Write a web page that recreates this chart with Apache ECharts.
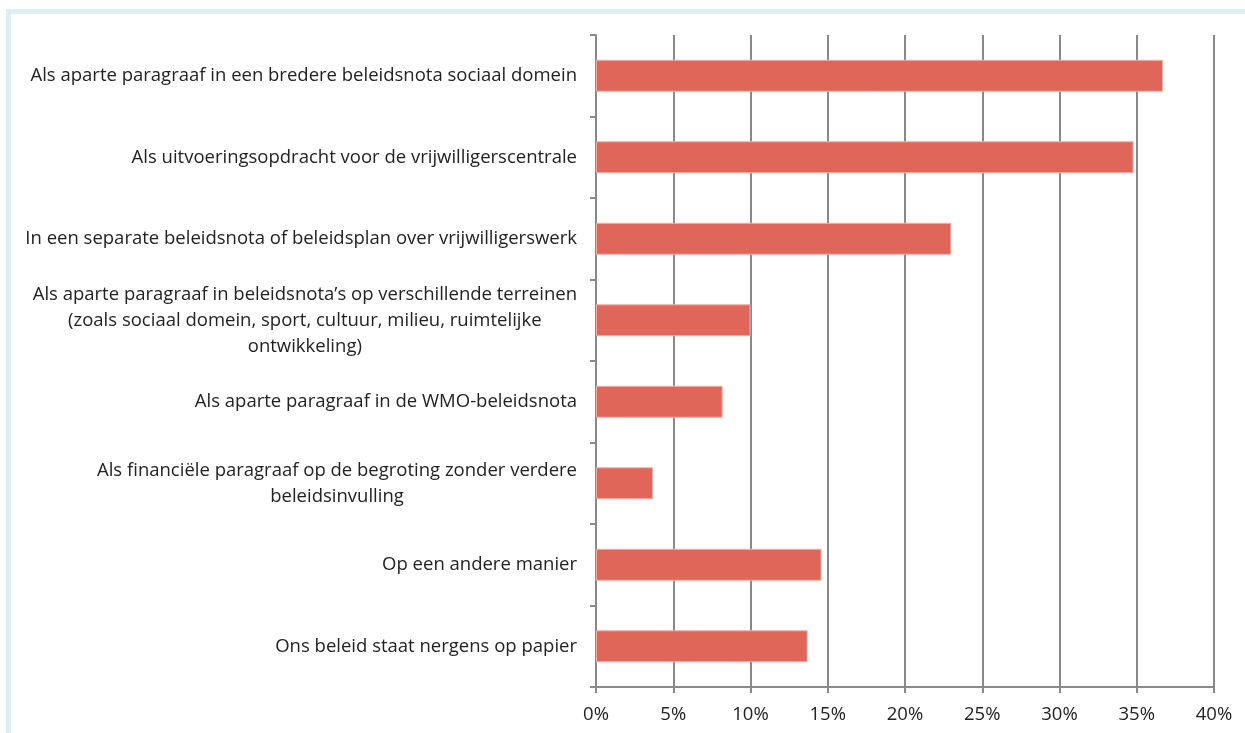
<!DOCTYPE html>
<html>
<head>
<meta charset="utf-8">
<script src="https://cdn.jsdelivr.net/npm/echarts@6/dist/echarts.min.js"></script>
<style>
  html, body { margin: 0; padding: 0; background: #fff; }
  #frame {
    position: absolute; left: 6px; top: 9px; width: 1239px; height: 724px;
    border-top: 5px solid #dbeff5; border-left: 5px solid #dbeff5;
    box-sizing: border-box;
  }
  #mychart { position: absolute; left: 0; top: 0; width: 1245px; height: 733px; }
</style>
</head>
<body>
<div id="frame"></div>
<div id="mychart"></div>
<script>
// categorieen (van boven naar beneden)
const categories = [
  'Als aparte paragraaf in een bredere beleidsnota sociaal domein',
  'Als uitvoeringsopdracht voor de vrijwilligerscentrale',
  'In een separate beleidsnota of beleidsplan over vrijwilligerswerk',
  'Als aparte paragraaf in beleidsnota\u2019s op verschillende terreinen\n(zoals sociaal domein, sport, cultuur, milieu, ruimtelijke\nontwikkeling)',
  'Als aparte paragraaf in de WMO-beleidsnota',
  'Als financi\u00eble paragraaf op de begroting zonder verdere\nbeleidsinvulling',
  'Op een andere manier',
  'Ons beleid staat nergens op papier'
]
// percentages
const values = [36.7, 34.8, 23.0, 10.0, 8.2, 3.7, 14.6, 13.7]
const xTicks = [0, 40, 5] // min, max, interval

const myEcharts = echarts.init(document.getElementById('mychart'))
const font = 'Open Sans'
const fsize = 18.5
const grey = '#898989'

let option = {
  animation: false,
  grid: { left: 596, right: 31, top: 35, bottom: 46, containLabel: false },
  xAxis: {
    type: 'value',
    min: xTicks[0],
    max: xTicks[1],
    interval: xTicks[2],
    axisLine: { show: true, lineStyle: { color: grey, width: 2 } },
    axisTick: { show: true, length: 6, lineStyle: { color: grey, width: 2 } },
    splitLine: { show: true, lineStyle: { color: grey, width: 2 } },
    axisLabel: { formatter: '{value}%', color: '#222', fontFamily: font, fontSize: fsize, margin: 18 }
  },
  yAxis: {
    type: 'category',
    inverse: true,
    data: categories,
    axisLine: { show: true, lineStyle: { color: grey, width: 2 } },
    axisTick: { show: true, length: 6, lineStyle: { color: grey, width: 2 } },
    axisLabel: {
      margin: 19,
      color: '#222',
      fontFamily: font,
      fontSize: fsize,
      formatter: function (v) {
        return v.split('\n').map(s => '{c|' + s + '}').join('\n')
      },
      rich: { c: { align: 'center', fontFamily: font, fontSize: fsize, lineHeight: 26, color: '#222' } }
    }
  },
  series: [{
    type: 'bar',
    data: values,
    barWidth: 32,
    itemStyle: { color: '#e0665a', borderColor: '#f0b2aa', borderWidth: 1 }
  }]
}
myEcharts.setOption(option)
</script>
</body>
</html>
